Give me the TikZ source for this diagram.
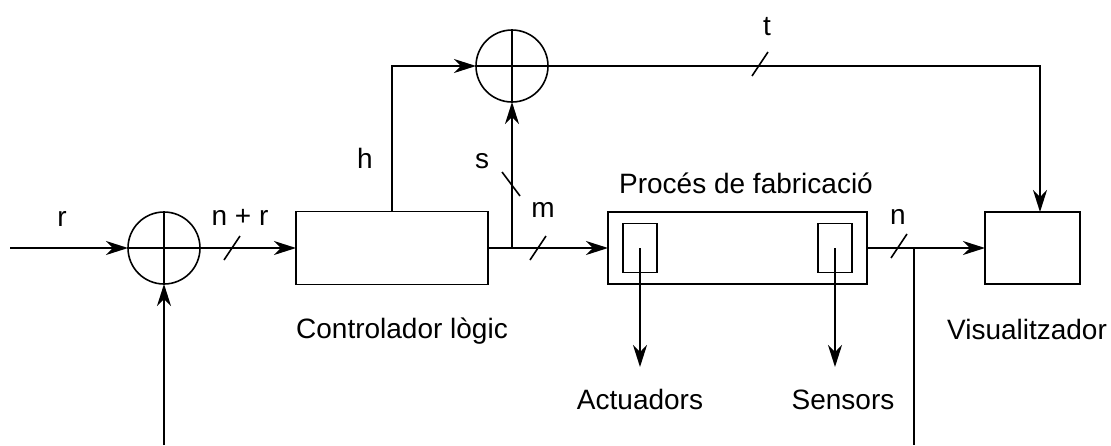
\documentclass[tikz,border=0pt]{standalone}
\usepackage{fontspec}
\setmainfont{Liberation Sans}
\usetikzlibrary{arrows.meta}
\begin{document}
\begin{tikzpicture}[x=1pt,y=-1pt,
  line width=1.6pt,
  every node/.style={inner sep=0pt,outer sep=0pt},
  lbl/.style={font=\fontsize{28}{30}\selectfont,anchor=base},
  blk/.style={draw,rectangle,line width=1.6pt},
  sumnode/.style={draw,circle,minimum size=72pt,line width=1.6pt,
    path picture={\draw[line width=1.6pt] (path picture bounding box.north) -- (path picture bounding box.south)
      (path picture bounding box.west) -- (path picture bounding box.east);}},
  arr/.style={-{Stealth[length=22pt,width=14pt,inset=7pt]}},
  tick/.style={line width=1.6pt}]
\useasboundingbox (0,0) rectangle (1111,445);

% nodes
\node[sumnode] (s1) at (164,248) {};
\node[sumnode] (s2) at (512,66) {};
\node[blk,minimum width=192pt,minimum height=73pt] (ctrl) at (392,248) {};
\node[blk,minimum width=259pt,minimum height=72pt] (proc) at (737.5,248) {};
\node[blk,minimum width=34pt,minimum height=49pt] (act) at (640,248) {};
\node[blk,minimum width=34pt,minimum height=49pt] (sens) at (835,248) {};
\node[blk,minimum width=95pt,minimum height=72pt] (vis) at (1032.5,248) {};

% labels
\node[lbl] (lr) at (62,226) {r};
\node[lbl] (lnr) at (240,225) {n + r};
\node[lbl] (lh) at (365,168) {h};
\node[lbl] (ls) at (482,168) {s};
\node[lbl] (lm) at (543,217) {m};
\node[lbl] (lt) at (767,35) {t};
\node[lbl] (ln) at (898,224) {n};
\node[lbl] (lctrl) at (402,338) {Controlador lògic};
\node[lbl] (lproc) at (746,193) {Procés de fabricació};
\node[lbl] (lvis) at (1027,339) {Visualitzador};
\node[lbl] (lact) at (640,409) {Actuadors};
\node[lbl] (lsens) at (843,409) {Sensors};

% coordinates
\coordinate (in) at (10,248);
\coordinate (fb) at (164,445);
\coordinate (hc) at (392,66);
\coordinate (js) at (512,248);
\coordinate (tc) at (1040,66);
\coordinate (jn) at (914,248);
\coordinate (nb) at (914,445);
\coordinate (aend) at (640,367);
\coordinate (send) at (835,367);

% connectors
\draw[arr] (in) -- (s1.west);
\draw[arr] (fb) -- (s1.south);
\draw[arr] (s1.east) -- (ctrl.west);
\draw[arr] (ctrl.north) -- (hc) -- (s2.west);
\draw (ctrl.east) -- (js);
\draw[arr] (js) -- (proc.west);
\draw[arr] (js) -- (s2.south);
\draw[arr] (s2.east) -- (tc) -- (vis.north -| tc);
\draw[arr] (proc.east) -- (vis.west);
\draw (jn) -- (nb);
\draw[arr] (act.center) -- (aend);
\draw[arr] (sens.center) -- (send);

% bus ticks
\draw[tick] (224,260) -- (240,236);
\draw[tick] (530,260) -- (546,236);
\draw[tick] (502,172) -- (520,196);
\draw[tick] (752,76) -- (768,52);
\draw[tick] (891,258) -- (907,234);
\end{tikzpicture}
\end{document}
